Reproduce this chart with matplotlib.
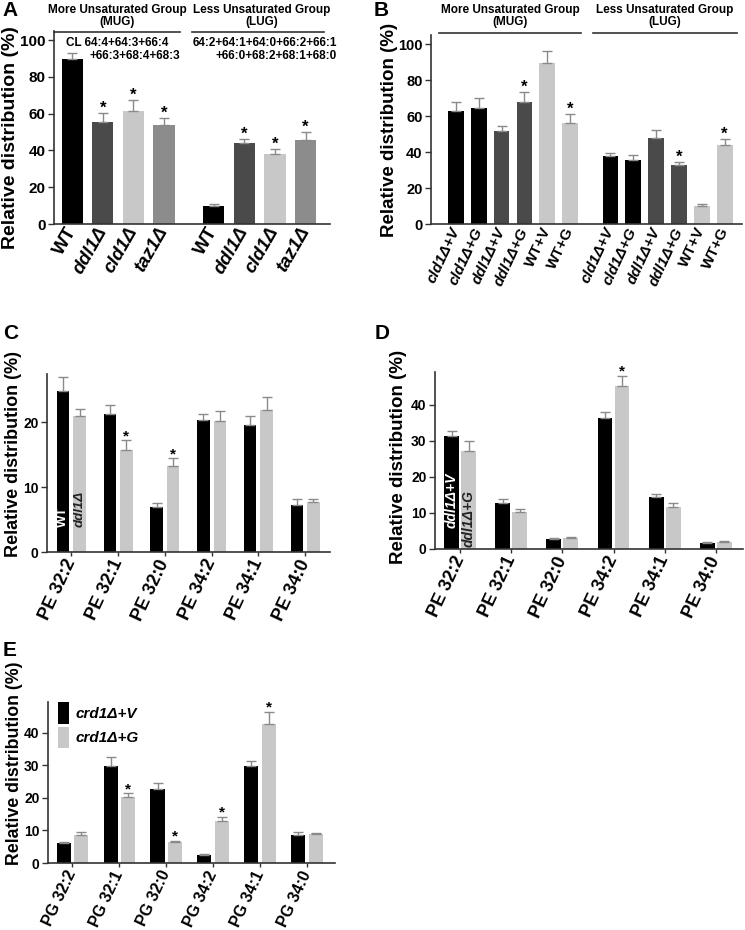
import numpy as np
import matplotlib
matplotlib.use("Agg")
import matplotlib.pyplot as plt
from matplotlib.lines import Line2D
from matplotlib.patches import Patch

plt.rcParams['font.family'] = ['Liberation Sans', 'DejaVu Sans']
plt.rcParams['font.weight'] = 'bold'
plt.rcParams['axes.labelweight'] = 'bold'

W, H = 745, 930

# ---- data ----
a_labels = ["WT", "ddl1Δ", "cld1Δ", "taz1Δ"]
a_mug = [90.0, 55.5, 61.5, 53.9]
a_mug_err = [3.3, 5.1, 5.9, 3.8]
a_lug = [9.9, 43.9, 38.2, 45.7]
a_lug_err = [0.9, 2.2, 2.5, 4.6]
a_mug_star = [False, True, True, True]
a_lug_star = [False, True, True, True]

b_labels = ["cld1Δ+V", "cld1Δ+G", "ddl1Δ+V", "ddl1Δ+G", "WT+V", "WT+G"]
b_mug = [62.5, 64.3, 51.9, 67.5, 89.5, 56.0]
b_mug_err = [5.5, 5.6, 2.3, 5.9, 6.5, 5.0]
b_lug = [37.5, 35.5, 48.0, 32.5, 10.0, 44.0]
b_lug_err = [1.9, 3.0, 4.0, 1.7, 1.0, 3.0]
b_mug_star = [False, False, False, True, False, True]
b_lug_star = [False, False, False, True, False, True]

pe_labels = ["PE 32:2", "PE 32:1", "PE 32:0", "PE 34:2", "PE 34:1", "PE 34:0"]
c_wt = [24.8, 21.3, 6.9, 20.3, 19.5, 7.2]
c_wt_err = [2.1, 1.3, 0.6, 1.0, 1.4, 0.9]
c_ddl = [21.0, 15.7, 13.3, 20.2, 21.9, 7.7]
c_ddl_err = [1.0, 1.5, 1.1, 1.5, 1.9, 0.5]
c_star = [False, True, True, False, False, False]

d_v = [31.3, 12.8, 2.8, 36.4, 14.4, 1.7]
d_v_err = [1.4, 1.1, 0.2, 1.6, 0.9, 0.1]
d_g = [27.1, 10.3, 3.0, 45.2, 11.6, 1.9]
d_g_err = [2.8, 0.8, 0.2, 2.8, 1.2, 0.2]
d_star = [False, False, False, True, False, False]

pg_labels = ["PG 32:2", "PG 32:1", "PG 32:0", "PG 34:2", "PG 34:1", "PG 34:0"]
e_v = [6.1, 29.9, 22.7, 2.6, 29.9, 8.7]
e_v_err = [0.5, 2.8, 2.0, 0.2, 1.5, 0.8]
e_g = [8.7, 20.4, 6.5, 12.9, 42.6, 8.8]
e_g_err = [0.8, 1.0, 0.4, 1.2, 3.8, 0.4]
e_star = [False, True, True, True, True, False]

BLACK = "#000000"
DARK = "#4a4a4a"
MID = "#8c8c8c"
LIGHT = "#c8c8c8"
ERR = "#8a8a8a"
SPINE = "#333333"


def px(x, y):
    return x / W, 1 - y / H


def axes_px(fig, left, top, right, bottom):
    x0, y0 = px(left, bottom)
    x1, y1 = px(right, top)
    return fig.add_axes([x0, y0, x1 - x0, y1 - y0])


def style(ax, xticks_marks=True):
    for s in ["top", "right"]:
        ax.spines[s].set_visible(False)
    for s in ["left", "bottom"]:
        ax.spines[s].set_color(SPINE)
        ax.spines[s].set_linewidth(1.2)
    ax.tick_params(axis="y", direction="out", length=4, width=1.0, color=SPINE, pad=2)
    ax.tick_params(axis="x", direction="out", length=3 if xticks_marks else 0,
                   width=1.0, color=SPINE, pad=3)


def bars(ax, x, vals, errs, colors, width, stars, star_size=11):
    ax.bar(x, vals, width=width, color=colors, edgecolor="none", zorder=2)
    ax.errorbar(x, vals, yerr=[np.zeros(len(vals)), errs], fmt="none",
                ecolor=ERR, elinewidth=1.0, capsize=3.3, capthick=1.0, zorder=3)
    for xi, v, e, s in zip(x, vals, errs, stars):
        if s:
            ax.annotate("*", (xi, v + e), xytext=(0, -2), textcoords="offset points",
                        ha="center", va="bottom", fontsize=star_size, fontweight="bold")


def fig_line(fig, x0, x1, y):
    a, b = px(x0, y)
    c, _ = px(x1, y)
    fig.add_artist(Line2D([a, c], [b, b], color=SPINE, lw=1.2))


def fig_text(fig, x, y, s, ha="center", size=8.5, **kw):
    fx, fy = px(x, y)
    fig.text(fx, fy, s, ha=ha, va="center", fontsize=size, fontweight="bold", **kw)


def xlabels(ax, labels, rot, size, upright_prefix=None):
    ax.set_xticklabels(labels, rotation=rot, ha="right", va="center",
                       rotation_mode="anchor", fontsize=size)
    if upright_prefix is not None:
        for t in ax.get_xticklabels():
            if not t.get_text().startswith(upright_prefix):
                t.set_fontstyle("italic")


fig = plt.figure(figsize=(W / 100, H / 100), dpi=100)

# ---- Panel A ----
ax = axes_px(fig, 54, 31, 330, 224)
style(ax, xticks_marks=False)
xa1 = np.arange(4)
xa2 = np.arange(4) + 4.63
cols_a = [BLACK, DARK, LIGHT, MID]
bars(ax, xa1, a_mug, a_mug_err, cols_a, 0.69, a_mug_star, 12)
bars(ax, xa2, a_lug, a_lug_err, cols_a, 0.69, a_lug_star, 12)
ax.set_xlim(-0.6, 8.43)
ax.set_ylim(0, 105)
ax.set_yticks([0, 20, 40, 60, 80, 100])
ax.tick_params(axis="y", labelsize=11)
ax.set_xticks(np.concatenate([xa1, xa2]))
xlabels(ax, a_labels + a_labels, 60, 13.5, upright_prefix="WT")
ax.set_ylabel("Relative distribution (%)", fontsize=14)
ax.yaxis.set_label_coords(-0.125, 0.45)

fig_text(fig, 117, 10, "More Unsaturated Group")
fig_text(fig, 117, 22, "(MUG)")
fig_line(fig, 54, 180, 32)
fig_text(fig, 262, 10, "Less Unsaturated Group")
fig_text(fig, 262, 22, "(LUG)")
fig_line(fig, 192, 324, 32)
fig_text(fig, 117, 43, "CL 64:4+64:3+66:4")
fig_text(fig, 180, 56, "+66:3+68:4+68:3", ha="right")
fig_text(fig, 337, 43, "64:2+64:1+64:0+66:2+66:1", ha="right")
fig_text(fig, 337, 56, "+66:0+68:2+68:1+68:0", ha="right")

# ---- Panel B ----
ax = axes_px(fig, 431, 35, 742, 224)
style(ax, xticks_marks=False)
xb1 = np.arange(6)
xb2 = np.arange(6) + 6.77
cols_b = [BLACK, BLACK, DARK, DARK, LIGHT, LIGHT]
bars(ax, xb1, b_mug, b_mug_err, cols_b, 0.69, b_mug_star, 12)
bars(ax, xb2, b_lug, b_lug_err, cols_b, 0.69, b_lug_star, 12)
ax.set_xlim(-1.09, 12.53)
ax.set_ylim(0, 105)
ax.set_yticks([0, 20, 40, 60, 80, 100])
ax.tick_params(axis="y", labelsize=10.5)
ax.set_xticks(np.concatenate([xb1, xb2]))
xlabels(ax, b_labels + b_labels, 65, 11, upright_prefix="WT")
ax.set_ylabel("Relative distribution (%)", fontsize=13.5)
ax.yaxis.set_label_coords(-0.105, 0.5)

fig_text(fig, 510, 10, "More Unsaturated Group")
fig_text(fig, 510, 22, "(MUG)")
fig_line(fig, 439, 581, 33)
fig_text(fig, 665, 10, "Less Unsaturated Group")
fig_text(fig, 665, 22, "(LUG)")
fig_line(fig, 593, 737, 33)

# ---- Panel C ----
ax = axes_px(fig, 47, 374, 330, 552)
style(ax)
xc = np.arange(6)
off, bw = 0.177, 0.27
bars(ax, xc - off, c_wt, c_wt_err, BLACK, bw, [False] * 6)
bars(ax, xc + off, c_ddl, c_ddl_err, LIGHT, bw, c_star)
ax.set_xlim(-0.52, 5.53)
ax.set_ylim(0, 27.4)
ax.set_yticks([0, 10, 20])
ax.tick_params(axis="y", labelsize=10)
ax.set_xticks(xc)
xlabels(ax, pe_labels, 65, 13)
ax.set_ylabel("Relative distribution (%)", fontsize=13)
ax.yaxis.set_label_coords(-0.088, 0.55)
ax.text(xc[0] - off, 3.85, "WT", rotation=90, ha="center", va="bottom",
        color="white", fontsize=9.5, fontweight="bold", zorder=4)
ax.text(xc[0] + off, 3.85, "ddl1Δ", rotation=90, ha="center", va="bottom",
        color="#222222", fontsize=9.5, fontweight="bold", fontstyle="italic", zorder=4)

# ---- Panel D ----
ax = axes_px(fig, 435, 372, 743, 549)
style(ax)
xd = np.arange(6)
off_d, bw_d = 0.166, 0.29
bars(ax, xd - off_d, d_v, d_v_err, BLACK, bw_d, [False] * 6)
bars(ax, xd + off_d, d_g, d_g_err, LIGHT, bw_d, d_star)
ax.set_xlim(-0.49, 5.53)
ax.set_ylim(0, 49)
ax.set_yticks([0, 10, 20, 30, 40])
ax.tick_params(axis="y", labelsize=10)
ax.set_xticks(xd)
xlabels(ax, pe_labels, 65, 13)
ax.set_ylabel("Relative distribution (%)", fontsize=13.5)
ax.yaxis.set_label_coords(-0.09, 0.52)
ax.text(xd[0] - off_d, 5.8, "ddl1Δ+V", rotation=90, ha="center", va="bottom",
        color="white", fontsize=10, fontweight="bold", fontstyle="italic", zorder=4)
ax.text(xd[0] + off_d, 0.6, "ddl1Δ+G", rotation=90, ha="center", va="bottom",
        color="#222222", fontsize=10, fontweight="bold", fontstyle="italic", zorder=4)

# ---- Panel E ----
ax = axes_px(fig, 48, 702, 335, 863)
style(ax)
xe = np.arange(6)
off_e, bw_e = 0.185, 0.3
bars(ax, xe - off_e, e_v, e_v_err, BLACK, bw_e, [False] * 6)
bars(ax, xe + off_e, e_g, e_g_err, LIGHT, bw_e, e_star)
ax.set_xlim(-0.52, 5.6)
ax.set_ylim(0, 49.5)
ax.set_yticks([0, 10, 20, 30, 40])
ax.tick_params(axis="y", labelsize=10)
ax.set_xticks(xe)
xlabels(ax, pg_labels, 65, 11.5)
ax.set_ylabel("Relative distribution (%)", fontsize=12.8)
ax.yaxis.set_label_coords(-0.087, 0.62)
handles = [Patch(facecolor=BLACK, edgecolor="none"), Patch(facecolor=LIGHT, edgecolor="none")]
leg = ax.legend(handles, ["crd1Δ+V", "crd1Δ+G"], loc="upper left",
                bbox_to_anchor=(10 / 287, 1.0), frameon=False, borderaxespad=0,
                borderpad=0, handlelength=0.75, handleheight=1.8, handletextpad=0.4,
                labelspacing=0.2, prop={"size": 11, "weight": "bold", "style": "italic"})

# panel letters
for lab, x, y in [("A", 2, 10), ("B", 374, 10), ("C", 3, 333), ("D", 375, 333), ("E", 3, 650)]:
    fig_text(fig, x, y, lab, ha="left", size=15)

fig.savefig("out.png", dpi=100)
